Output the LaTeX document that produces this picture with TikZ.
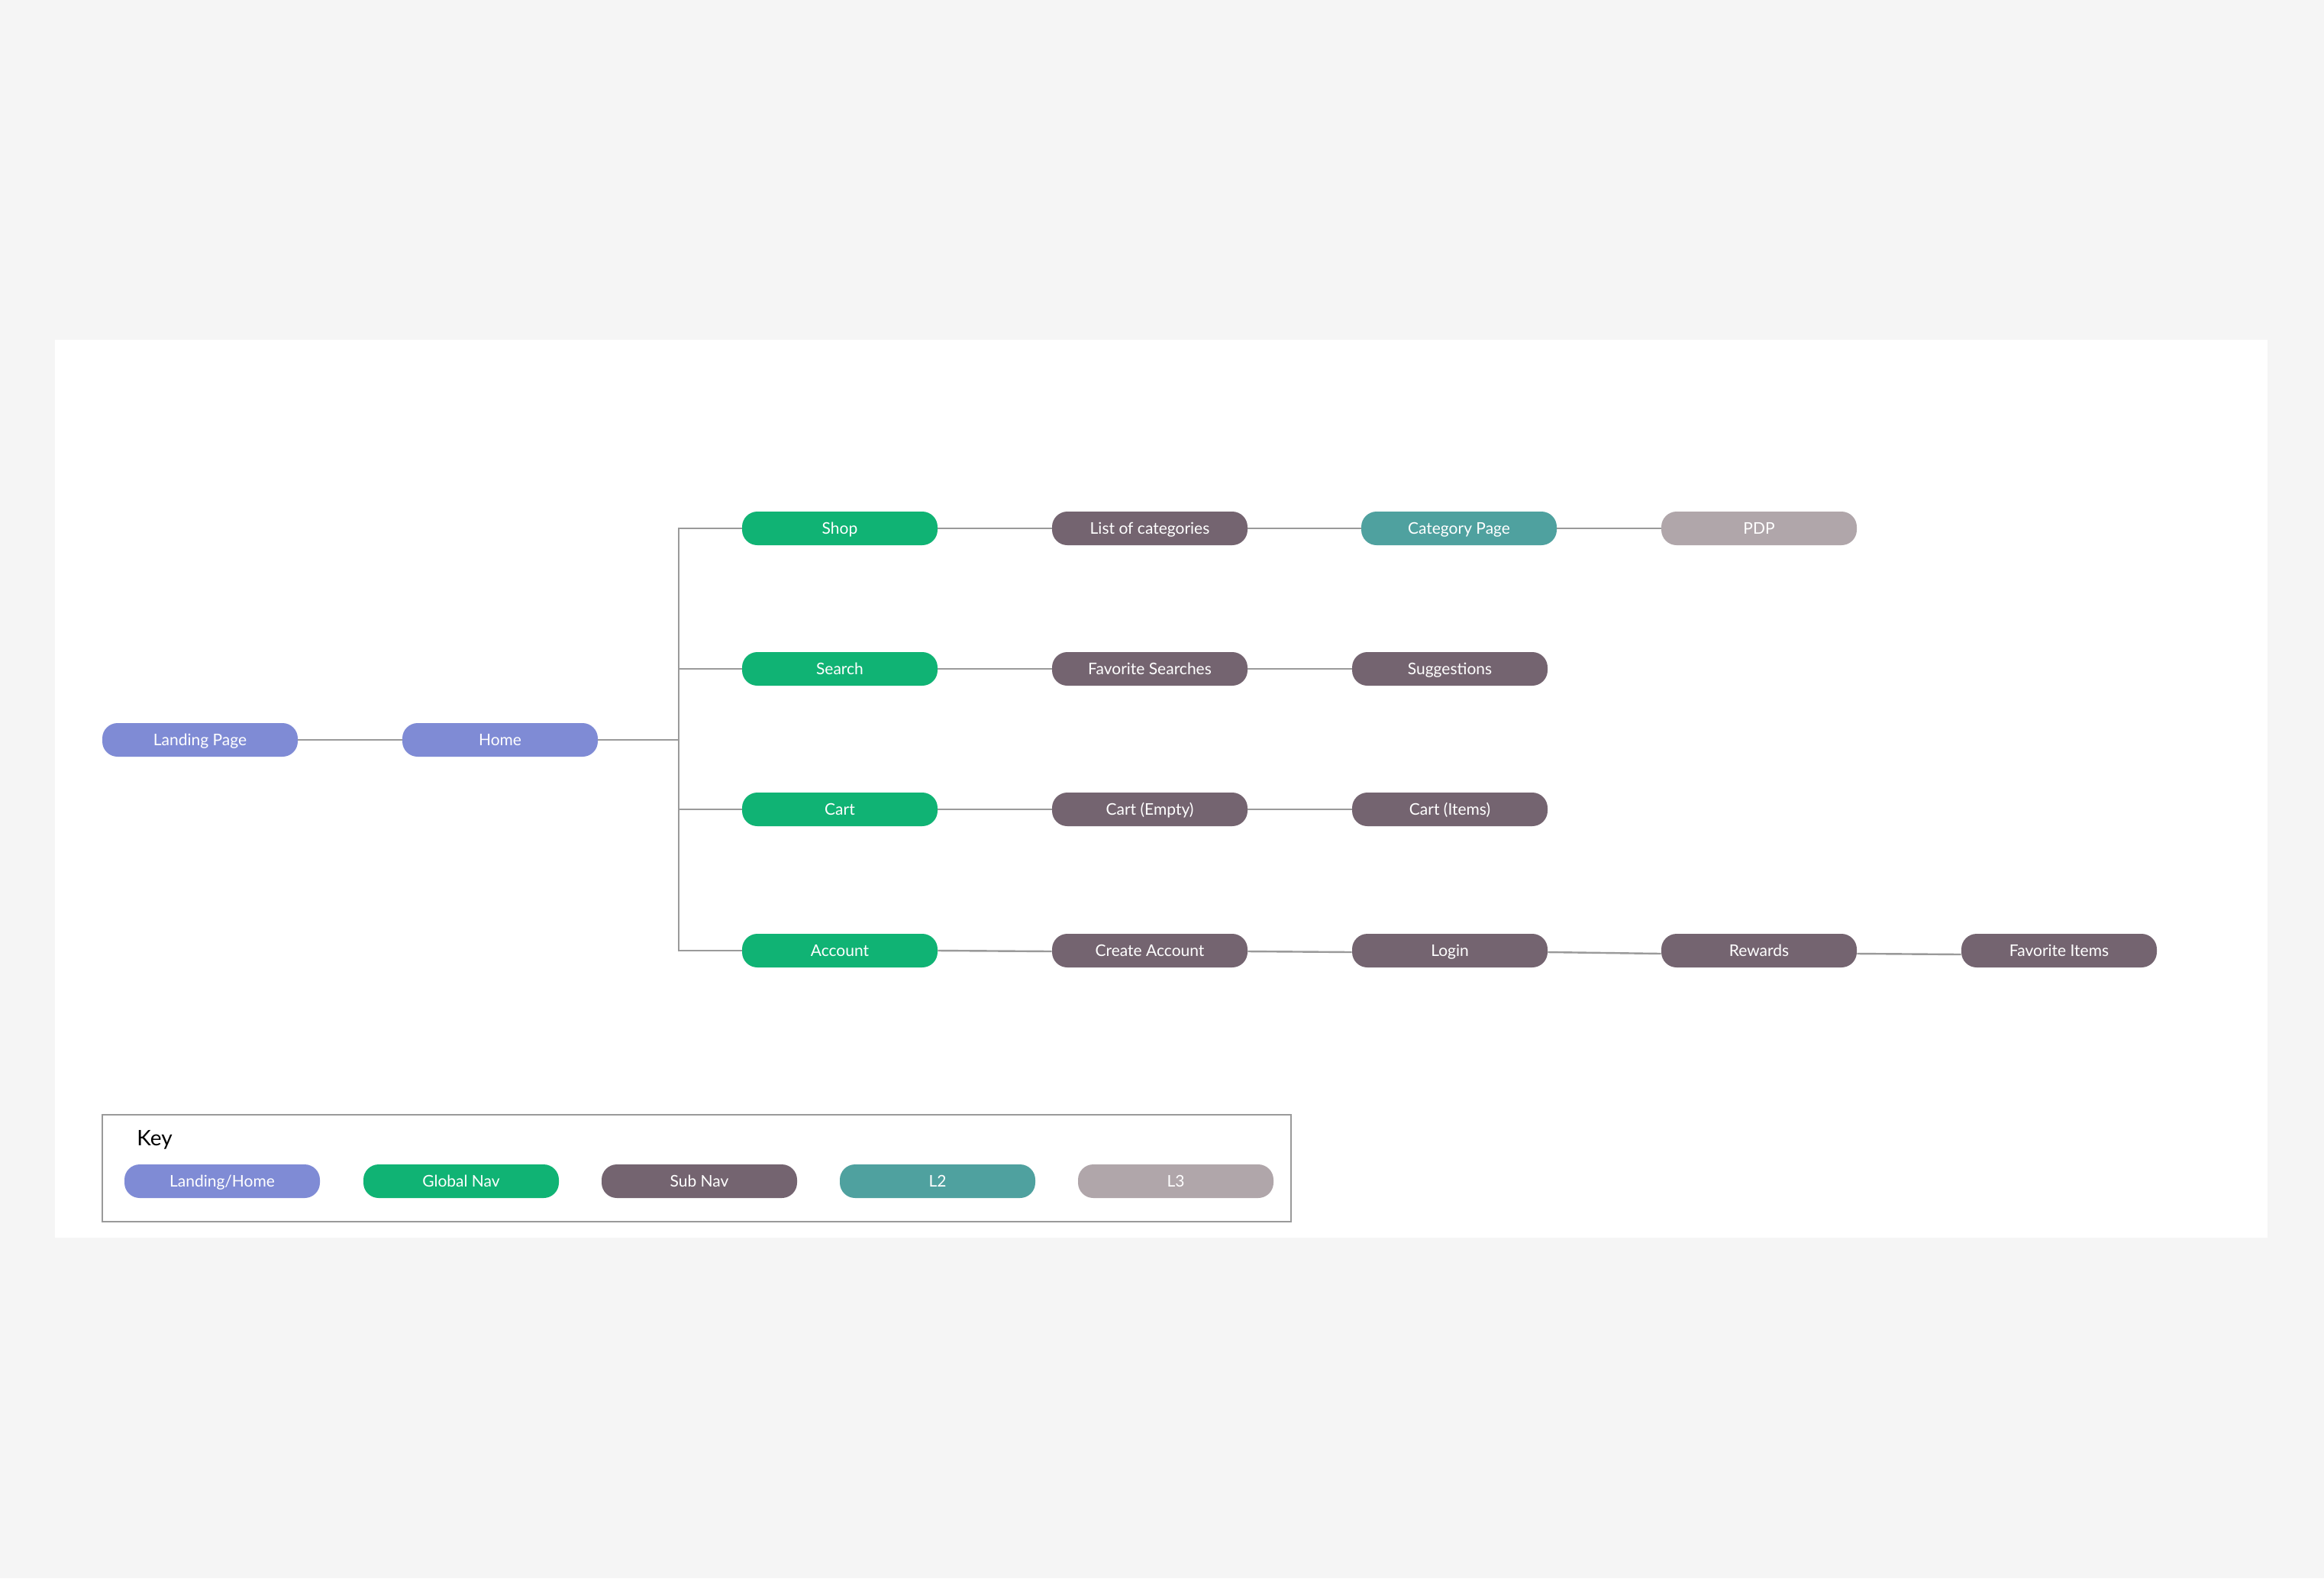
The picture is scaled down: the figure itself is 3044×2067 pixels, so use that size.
\documentclass[tikz,border=0pt]{standalone}
\usepackage{fontspec}
\setmainfont{Lato}
\definecolor{bgc}{HTML}{F5F5F5}
\definecolor{landc}{HTML}{7F8BD5}
\definecolor{globc}{HTML}{10B374}
\definecolor{subc}{HTML}{746470}
\definecolor{ltwoc}{HTML}{4FA19F}
\definecolor{lthreec}{HTML}{B0A6AA}
\definecolor{linec}{HTML}{9A9A9A}
\definecolor{keyc}{HTML}{9A9A9A}
\tikzset{
  pill/.style={rounded corners=10pt, minimum width=128pt, minimum height=22pt, inner sep=0pt,
    text=white, font=\fontsize{10.5pt}{12pt}\selectfont, text height=8.6pt, text depth=1.2pt},
  landing/.style={pill, fill=landc},
  globalnav/.style={pill, fill=globc},
  subnav/.style={pill, fill=subc},
  ltwo/.style={pill, fill=ltwoc},
  lthree/.style={pill, fill=lthreec},
  link/.style={draw=linec, line width=1.2pt},
}
\begin{document}
\begin{tikzpicture}[x=0.5pt,y=-0.5pt]
\useasboundingbox (0,0) rectangle (3044,2067);
\fill[bgc] (0,0) rectangle (3044,2067);
\fill[white] (72,445) rectangle (2970,1621);

% main tree
\node[landing] (landing) at (262,969) {Landing Page};
\node[landing] (home) at (655,969) {Home};
\coordinate (fork) at (889,969);

\node[globalnav] (shop) at (1100,692) {Shop};
\node[globalnav] (search) at (1100,876) {Search};
\node[globalnav] (cart) at (1100,1060) {Cart};
\node[globalnav] (account) at (1100,1245) {Account};

\node[subnav] (listcat) at (1506,692) {List of categories};
\node[ltwo] (catpage) at (1911,692) {Category Page};
\node[lthree] (pdp) at (2304,692) {PDP};

\node[subnav] (favsearch) at (1506,876) {Favorite Searches};
\node[subnav] (suggest) at (1899,876) {Suggestions};

\node[subnav] (cartempty) at (1506,1060) {Cart (Empty)};
\node[subnav] (cartitems) at (1899,1060) {Cart (Items)};

\node[subnav] (createacc) at (1506,1245) {Create Account};
\node[subnav] (login) at (1899,1245) {Login};
\node[subnav] (rewards) at (2304,1245) {Rewards};
\node[subnav] (favitems) at (2697,1245) {Favorite Items};

\draw[link] (landing) -- (home);
\draw[link] (home) -- (fork);
\draw[link] (fork) |- (shop.west);
\draw[link] (fork) |- (search.west);
\draw[link] (fork) |- (cart.west);
\draw[link] (fork) |- (account.west);

\draw[link] (shop) -- (listcat);
\draw[link] (listcat) -- (catpage);
\draw[link] (catpage) -- (pdp);
\draw[link] (search) -- (favsearch);
\draw[link] (favsearch) -- (suggest);
\draw[link] (cart) -- (cartempty);
\draw[link] (cartempty) -- (cartitems);
\draw[link] (account.east) -- ([yshift=-0.5pt]createacc.west);
\draw[link] ([yshift=-0.5pt]createacc.east) -- ([yshift=-1pt]login.west);
\draw[link] ([yshift=-1pt]login.east) -- ([yshift=-2pt]rewards.west);
\draw[link] ([yshift=-2pt]rewards.east) -- ([yshift=-2.5pt]favitems.west);

% key
\node[draw=keyc, line width=1.2pt, minimum width=778.5pt, minimum height=70pt, inner sep=0pt] (keybox) at (912.5,1530) {};
\node[anchor=west, inner sep=0pt, font=\fontsize{14pt}{17pt}\selectfont, text=black] (keylabel) at (179,1493) {Key};
\node[landing] (klanding) at (291,1547) {Landing/Home};
\node[globalnav] (kglobal) at (604,1547) {Global Nav};
\node[subnav] (ksub) at (916,1547) {Sub Nav};
\node[ltwo] (kltwo) at (1228,1547) {L2};
\node[lthree] (klthree) at (1540,1547) {L3};
\end{tikzpicture}
\end{document}
